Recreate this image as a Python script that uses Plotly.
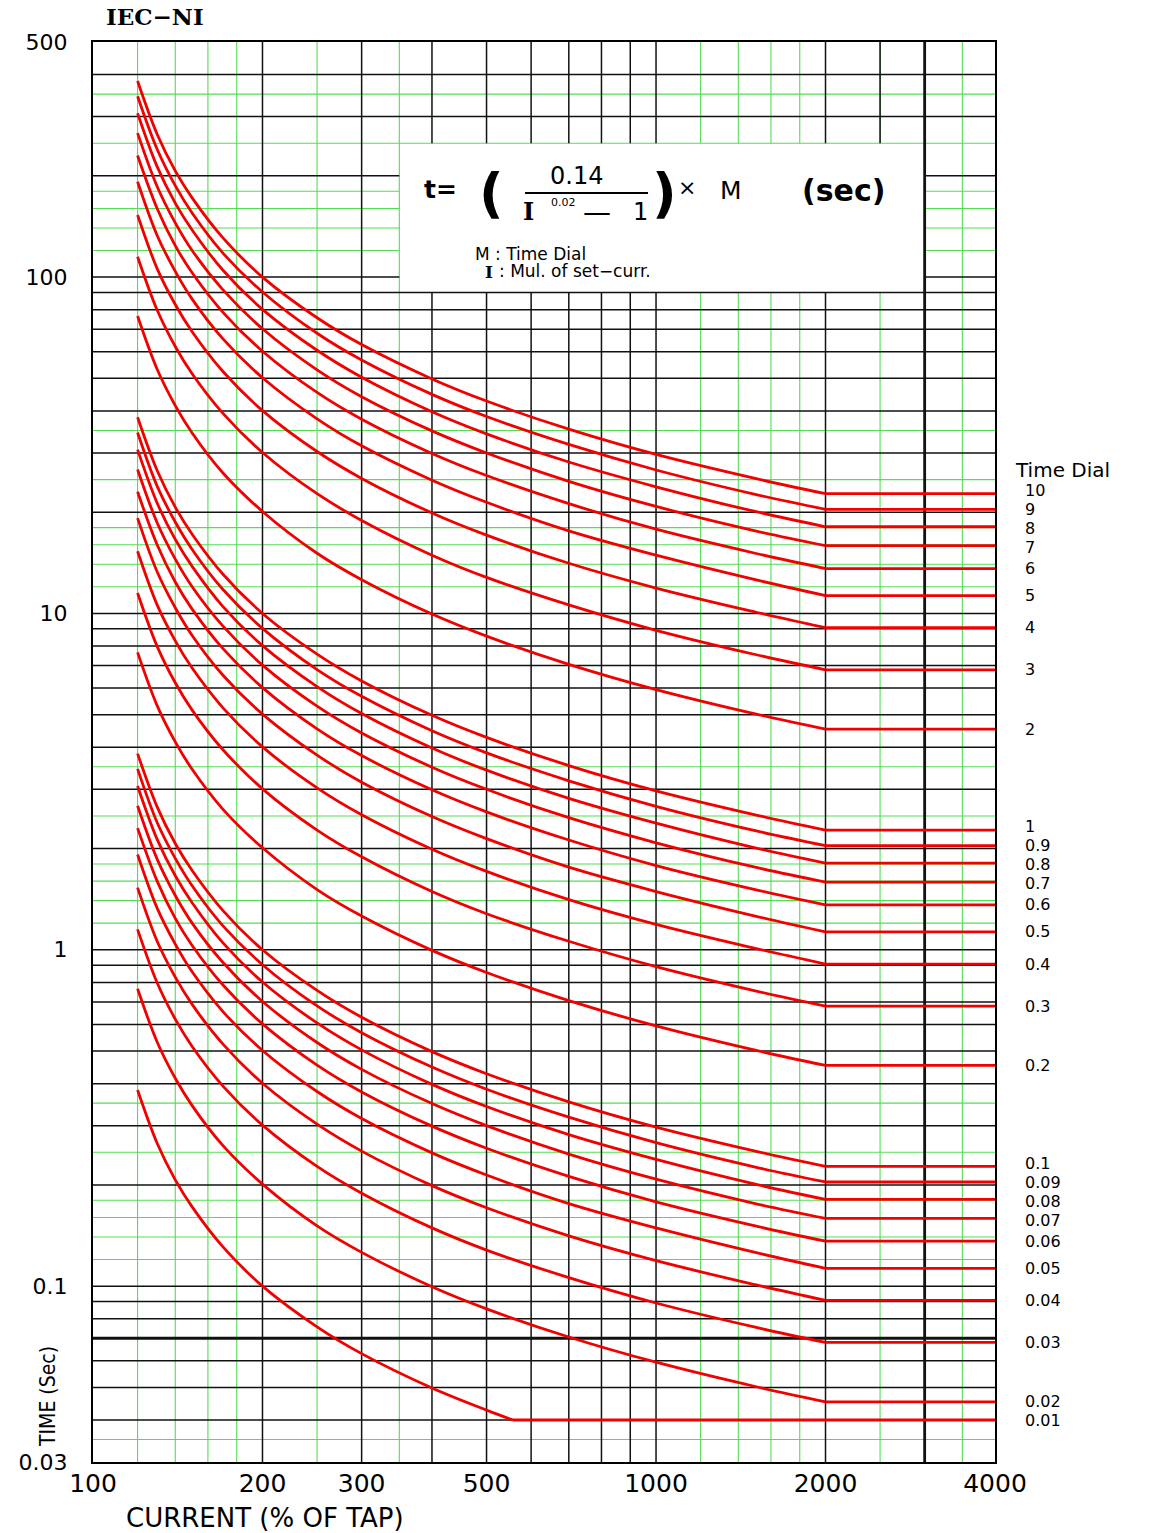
import math
import plotly.graph_objects as go

# ---------------- data ----------------
CURRENT_PCT = [120, 130, 140, 150, 170, 200, 250, 300, 400, 500, 700, 1000, 1500, 2000]
CURRENT_PCT_DIAL_001 = [120, 130, 140, 150, 170, 200, 250, 300, 400, 500, 557]
CURRENT_END = 4000

T_10 = [383, 266, 207, 172, 131, 100, 75.7, 63.0, 49.8, 42.8, 35.3, 29.7, 25.2, 22.7]
T_9 = [345, 240, 187, 155, 118, 90.3, 68.1, 56.7, 44.8, 38.5, 31.8, 26.7, 22.6, 20.4]
T_8 = [307, 213, 166, 138, 105, 80.2, 60.6, 50.4, 39.8, 34.2, 28.2, 23.8, 20.1, 18.1]
T_7 = [268, 186, 145, 120, 91.8, 70.2, 53.0, 44.1, 34.9, 30.0, 24.7, 20.8, 17.6, 15.9]
T_6 = [230, 160, 124, 103, 78.7, 60.2, 45.4, 37.8, 29.9, 25.7, 21.2, 17.8, 15.1, 13.6]
T_5 = [192, 133, 104, 86.0, 65.6, 50.2, 37.9, 31.5, 24.9, 21.4, 17.6, 14.9, 12.6, 11.3]
T_4 = [153, 106, 82.9, 68.8, 52.5, 40.1, 30.3, 25.2, 19.9, 17.1, 14.1, 11.9, 10.1, 9.07]
T_3 = [115, 79.8, 62.2, 51.6, 39.4, 30.1, 22.7, 18.9, 14.9, 12.8, 10.6, 8.91, 7.55, 6.80]
T_2 = [76.6, 53.2, 41.5, 34.4, 26.2, 20.1, 15.1, 12.6, 9.96, 8.56, 7.06, 5.94, 5.03, 4.53]
T_1 = [38.3, 26.6, 20.7, 17.2, 13.1, 10.0, 7.57, 6.30, 4.98, 4.28, 3.53, 2.97, 2.52, 2.27]
T_0_9 = [34.5, 23.9, 18.7, 15.5, 11.8, 9.03, 6.81, 5.67, 4.48, 3.85, 3.18, 2.67, 2.26, 2.04]
T_0_8 = [30.7, 21.3, 16.6, 13.8, 10.5, 8.02, 6.06, 5.04, 3.98, 3.42, 2.82, 2.38, 2.01, 1.81]
T_0_7 = [26.8, 18.6, 14.5, 12.0, 9.18, 7.02, 5.30, 4.41, 3.49, 3.00, 2.47, 2.08, 1.76, 1.59]
T_0_6 = [23.0, 16.0, 12.4, 10.3, 7.87, 6.02, 4.54, 3.78, 2.99, 2.57, 2.12, 1.78, 1.51, 1.36]
T_0_5 = [19.2, 13.3, 10.4, 8.60, 6.56, 5.02, 3.79, 3.15, 2.49, 2.14, 1.76, 1.49, 1.26, 1.13]
T_0_4 = [15.3, 10.6, 8.29, 6.88, 5.25, 4.01, 3.03, 2.52, 1.99, 1.71, 1.41, 1.19, 1.01, 0.907]
T_0_3 = [11.5, 7.98, 6.22, 5.16, 3.94, 3.01, 2.27, 1.89, 1.49, 1.28, 1.06, 0.891, 0.755, 0.680]
T_0_2 = [7.66, 5.32, 4.15, 3.44, 2.62, 2.01, 1.51, 1.26, 0.996, 0.856, 0.706, 0.594, 0.503, 0.453]
T_0_1 = [3.83, 2.66, 2.07, 1.72, 1.31, 1.00, 0.757, 0.630, 0.498, 0.428, 0.353, 0.297, 0.252, 0.227]
T_0_09 = [3.45, 2.39, 1.87, 1.55, 1.18, 0.903, 0.681, 0.567, 0.448, 0.385, 0.318, 0.267, 0.226, 0.204]
T_0_08 = [3.07, 2.13, 1.66, 1.38, 1.05, 0.802, 0.606, 0.504, 0.398, 0.342, 0.282, 0.238, 0.201, 0.181]
T_0_07 = [2.68, 1.86, 1.45, 1.20, 0.918, 0.702, 0.530, 0.441, 0.349, 0.300, 0.247, 0.208, 0.176, 0.159]
T_0_06 = [2.30, 1.60, 1.24, 1.03, 0.787, 0.602, 0.454, 0.378, 0.299, 0.257, 0.212, 0.178, 0.151, 0.136]
T_0_05 = [1.92, 1.33, 1.04, 0.860, 0.656, 0.502, 0.379, 0.315, 0.249, 0.214, 0.176, 0.149, 0.126, 0.113]
T_0_04 = [1.53, 1.06, 0.829, 0.688, 0.525, 0.401, 0.303, 0.252, 0.199, 0.171, 0.141, 0.119, 0.101, 0.0907]
T_0_03 = [1.15, 0.798, 0.622, 0.516, 0.394, 0.301, 0.227, 0.189, 0.149, 0.128, 0.106, 0.0891, 0.0755, 0.0680]
T_0_02 = [0.766, 0.532, 0.415, 0.344, 0.262, 0.201, 0.151, 0.126, 0.0996, 0.0856, 0.0706, 0.0594, 0.0503, 0.0453]
T_0_01 = [0.383, 0.266, 0.207, 0.172, 0.131, 0.100, 0.0757, 0.0630, 0.0498, 0.0428, 0.0400]

X_TICKS = [100, 200, 300, 500, 1000, 2000, 4000]
X_TICK_TEXT = ["100", "200", "300", "500", "1000", "2000", "4000"]
Y_TICKS = [0.03, 0.1, 1, 10, 100, 500]
Y_TICK_TEXT = ["0.03", "0.1", "1", "10", "100", "500"]

GRID_X_GREEN = [120, 140, 160, 180, 250, 350, 1200, 1400, 1600, 1800, 2500, 3500]
GRID_X_BLACK = [200, 300, 400, 500, 600, 700, 800, 900, 1000, 2000]
GRID_X_HEAVY = [3000]
GRID_X_BLACK_ABOVE_BOX = [2500]
GRID_Y_GREEN = [0.035, 0.12, 0.14, 0.16, 0.18, 0.25, 0.35, 1.2, 1.4, 1.6, 1.8, 2.5, 3.5,
                12, 14, 16, 18, 25, 35, 120, 140, 160, 180, 250, 350]
GRID_Y_BLACK = [0.04, 0.05, 0.06, 0.08, 0.09,
                0.1, 0.2, 0.3, 0.4, 0.5, 0.6, 0.7, 0.8, 0.9,
                1, 2, 3, 4, 5, 6, 7, 8, 9,
                10, 20, 30, 40, 50, 60, 70, 80, 90,
                100, 200, 300, 400]
GRID_Y_HEAVY = [0.07]

X_RANGE = [100, 4000]
Y_RANGE = [0.03, 500]
BOX_X = [350, 3000]   # formula box (current %)
BOX_Y = [90, 250]     # formula box (seconds)

CURVES = [
    ("10", CURRENT_PCT, T_10), ("9", CURRENT_PCT, T_9), ("8", CURRENT_PCT, T_8),
    ("7", CURRENT_PCT, T_7), ("6", CURRENT_PCT, T_6), ("5", CURRENT_PCT, T_5),
    ("4", CURRENT_PCT, T_4), ("3", CURRENT_PCT, T_3), ("2", CURRENT_PCT, T_2),
    ("1", CURRENT_PCT, T_1), ("0.9", CURRENT_PCT, T_0_9), ("0.8", CURRENT_PCT, T_0_8),
    ("0.7", CURRENT_PCT, T_0_7), ("0.6", CURRENT_PCT, T_0_6), ("0.5", CURRENT_PCT, T_0_5),
    ("0.4", CURRENT_PCT, T_0_4), ("0.3", CURRENT_PCT, T_0_3), ("0.2", CURRENT_PCT, T_0_2),
    ("0.1", CURRENT_PCT, T_0_1), ("0.09", CURRENT_PCT, T_0_09), ("0.08", CURRENT_PCT, T_0_08),
    ("0.07", CURRENT_PCT, T_0_07), ("0.06", CURRENT_PCT, T_0_06), ("0.05", CURRENT_PCT, T_0_05),
    ("0.04", CURRENT_PCT, T_0_04), ("0.03", CURRENT_PCT, T_0_03), ("0.02", CURRENT_PCT, T_0_02),
    ("0.01", CURRENT_PCT_DIAL_001, T_0_01),
]

# ---------------- styling ----------------
W, H = 1153, 1533
ML, MR, MT, MB = 93, 158, 42, 71
PW, PH = W - ML - MR, H - MT - MB
GREEN = "#55dd55"
BLACK = "#111111"
RED = "#f20000"
SANS = "DejaVu Sans, Arial, sans-serif"
SERIF = "DejaVu Serif, Liberation Serif, serif"
LABEL_SIZE = 16
LABEL_GAP = 19


def px(xp, yp):
    return (xp - ML) / PW, 1 - (yp - MT) / PH


def y_to_px(v):
    lo, hi = math.log10(Y_RANGE[0]), math.log10(Y_RANGE[1])
    return MT + PH * (hi - math.log10(v)) / (hi - lo)


def vlines(xs, y_lo=None, y_hi=None):
    X, Y = [], []
    for x in xs:
        if y_lo is not None:
            parts = [(y_lo, y_hi)]
        elif BOX_X[0] < x < BOX_X[1]:
            parts = [(Y_RANGE[0], BOX_Y[0]), (BOX_Y[1], Y_RANGE[1])]
        else:
            parts = [(Y_RANGE[0], Y_RANGE[1])]
        for a, b in parts:
            X += [x, x, None]
            Y += [a, b, None]
    return X, Y


def hlines(ys):
    X, Y = [], []
    for y in ys:
        if BOX_Y[0] < y < BOX_Y[1]:
            parts = [(X_RANGE[0], BOX_X[0]), (BOX_X[1], X_RANGE[1])]
        else:
            parts = [(X_RANGE[0], X_RANGE[1])]
        for a, b in parts:
            X += [a, b, None]
            Y += [y, y, None]
    return X, Y


fig = go.Figure()


def add_grid(xv, yv, color, width):
    vx, vy = xv
    hx, hy = yv
    fig.add_trace(go.Scatter(x=vx + hx, y=vy + hy, mode="lines",
                             line=dict(color=color, width=width),
                             hoverinfo="skip", showlegend=False))


add_grid(vlines(GRID_X_GREEN), hlines(GRID_Y_GREEN), GREEN, 1.1)
add_grid(vlines(GRID_X_BLACK), hlines(GRID_Y_BLACK), BLACK, 1.5)
add_grid(vlines(GRID_X_BLACK_ABOVE_BOX, BOX_Y[1], Y_RANGE[1]), ([], []), BLACK, 1.5)
add_grid(vlines(GRID_X_HEAVY), hlines(GRID_Y_HEAVY), BLACK, 2.8)

# curves + flat tails
for label, cur, t in CURVES:
    fig.add_trace(go.Scatter(x=cur, y=t, mode="lines",
                             line=dict(color=RED, width=2.8, shape="spline", smoothing=1.0),
                             name=label, showlegend=False, hoverinfo="skip"))
    fig.add_trace(go.Scatter(x=[cur[-1], CURRENT_END], y=[t[-1], t[-1]], mode="lines",
                             line=dict(color=RED, width=2.8),
                             showlegend=False, hoverinfo="skip"))

annotations = []

# right-side dial labels, spread apart so they do not collide
orig = [y_to_px(t[-1]) for _, _, t in CURVES]
pos = list(orig)
for _ in range(200):
    moved = False
    for i in range(len(pos) - 1):
        d = pos[i + 1] - pos[i]
        if d < LABEL_GAP:
            s = (LABEL_GAP - d) / 2 + 0.01
            pos[i] -= s
            pos[i + 1] += s
            moved = True
    if not moved:
        break

for (label, cur, t), p0, p1 in zip(CURVES, orig, pos):
    annotations.append(dict(x=(1023 - ML) / PW, xref="paper", y=math.log10(t[-1]), yref="y",
                            yshift=p0 - p1,
                            text=label, showarrow=False, xanchor="left", yanchor="middle",
                            font=dict(family=SANS, size=LABEL_SIZE, color="#000")))

ax, ay = px(1013, 470)
annotations.append(dict(x=ax, y=ay, xref="paper", yref="paper", text="Time Dial",
                        showarrow=False, xanchor="left", yanchor="middle",
                        font=dict(family=SANS, size=20, color="#000")))

# title
ax, ay = px(155, 16)
annotations.append(dict(x=ax, y=ay, xref="paper", yref="paper", text="<b>IEC−NI</b>",
                        showarrow=False, xanchor="center", yanchor="middle",
                        font=dict(family=SERIF, size=23, color="#000")))

# axis titles
ax, ay = px(265, 1518)
annotations.append(dict(x=ax, y=ay, xref="paper", yref="paper", text="CURRENT (% OF TAP)",
                        showarrow=False, xanchor="center", yanchor="middle",
                        font=dict(family=SANS, size=26, color="#000")))
ax, ay = px(48, 1397)
annotations.append(dict(x=ax, y=ay, xref="paper", yref="paper", text="TIME (Sec)",
                        showarrow=False, xanchor="center", yanchor="middle", textangle=-90,
                        font=dict(family="Liberation Sans Narrow, DejaVu Sans Condensed, Liberation Sans, sans-serif",
                                  size=21, color="#000")))


def txt(xp, yp, text, size, family=SANS, anchor="center"):
    a, b = px(xp, yp)
    annotations.append(dict(x=a, y=b, xref="paper", yref="paper", text=text, showarrow=False,
                            xanchor=anchor, yanchor="middle",
                            font=dict(family=family, size=size, color="#000")))


# formula box content
txt(440, 190, "<b>t=</b>", 25)
txt(491, 194, "<b>(</b>", 54)
txt(576, 176, "0.14", 24)
txt(528, 212, "<b>I</b>", 24, SERIF)
txt(563, 203, "0.02", 11)
txt(597, 213, "—", 28)
txt(640, 212, "1", 24)
txt(664, 194, "<b>)</b>", 54)
txt(687, 188, "×", 22)
txt(731, 191, "M", 25)
txt(843, 191, "<b>(sec)</b>", 30)
txt(473, 254, "M : Time Dial", 17, anchor="left")
txt(489, 272, "<b>I</b>", 17, SERIF)
txt(497, 271, ": Mul. of set−curr.", 17, anchor="left")

shapes = []
a0, b0 = px(525, 193)
a1, _ = px(648, 193)
shapes.append(dict(type="line", xref="paper", yref="paper", x0=a0, x1=a1, y0=b0, y1=b0,
                   line=dict(color="#000", width=2)))

fig.update_layout(
    width=W, height=H, autosize=False,
    margin=dict(l=ML, r=MR, t=MT, b=MB, pad=0),
    paper_bgcolor="white", plot_bgcolor="white",
    showlegend=False,
    annotations=annotations, shapes=shapes,
    xaxis=dict(type="log", range=[math.log10(X_RANGE[0]), math.log10(X_RANGE[1])],
               showgrid=False, zeroline=False, showline=True, mirror=True,
               linecolor="#000", linewidth=2, ticks="",
               tickvals=X_TICKS, ticktext=X_TICK_TEXT, ticklabelstandoff=-2,
               tickfont=dict(family=SANS, size=25, color="#000")),
    yaxis=dict(type="log", range=[math.log10(Y_RANGE[0]), math.log10(Y_RANGE[1])],
               showgrid=False, zeroline=False, showline=True, mirror=True,
               linecolor="#000", linewidth=2, ticks="",
               tickvals=Y_TICKS, ticktext=Y_TICK_TEXT, ticklabelstandoff=19,
               tickfont=dict(family=SANS, size=22, color="#000")),
)

fig.write_html("out.html", config={"displayModeBar": False},
               post_script="document.body.style.margin='0';")
